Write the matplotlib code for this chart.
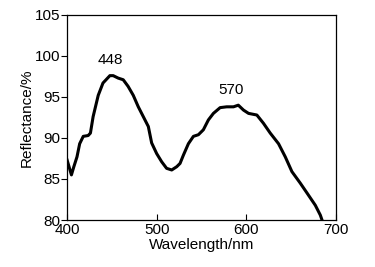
import matplotlib
matplotlib.use("Agg")
from matplotlib import pyplot as plt

plt.rcParams['font.family'] = ['Liberation Sans', 'DejaVu Sans']

wavelength = [400, 404.8, 407.5, 411, 414, 418, 423.5, 426, 429, 434.7, 440, 447.7, 451.4,
              457, 462.6, 468, 473.8, 479.4, 485, 490.6, 494.3, 499.9, 505.5, 511, 516.7,
              522.3, 526, 529.7, 535.3, 540.9, 546.5, 552, 557.6, 563.2, 570.7, 578, 585.6,
              591, 596.8, 602.4, 611.7, 619, 626.6, 635.9, 643.4, 650.8, 660.1, 667.6,
              676.9, 682.5, 684.4]
reflectance = [87.3, 85.5, 86.5, 87.7, 89.3, 90.2, 90.3, 90.6, 92.6, 95.2, 96.7, 97.6, 97.6,
               97.3, 97.1, 96.3, 95.2, 93.8, 92.6, 91.4, 89.4, 88.1, 87.1, 86.3, 86.1,
               86.5, 86.9, 87.9, 89.3, 90.2, 90.4, 91.0, 92.2, 93.0, 93.7, 93.8, 93.8,
               94.0, 93.4, 93.0, 92.8, 91.8, 90.6, 89.3, 87.7, 85.9, 84.5, 83.3,
               81.8, 80.6, 80.0]
peak_labels = ["448", "570"]
peak_pos = [(448, 99.5), (583, 95.8)]

fig = plt.figure(figsize=(3.75, 2.67), dpi=100)
ax = fig.add_axes([0.179, 0.176, 0.717, 0.768])

ax.plot(wavelength, reflectance, color='black', lw=2.2, solid_joinstyle='round')

for lab, (x, y) in zip(peak_labels, peak_pos):
    ax.text(x, y, lab, ha='center', va='center', fontsize=11)

ax.set_xlim(400, 700)
ax.set_ylim(80, 105)
ax.set_xticks([400, 500, 600, 700])
ax.set_yticks([80, 85, 90, 95, 100, 105])
ax.tick_params(axis='x', direction='in', labelsize=11, length=4, width=0.8, pad=2)
ax.tick_params(axis='y', direction='out', labelsize=11, length=4, width=0.8, pad=1)
for s in ax.spines.values():
    s.set_linewidth(0.9)

ax.set_xlabel('Wavelength/nm', fontsize=11, labelpad=1)
ax.set_ylabel('Reflectance/%', fontsize=11, labelpad=1)

fig.savefig('out.png', dpi=100)
